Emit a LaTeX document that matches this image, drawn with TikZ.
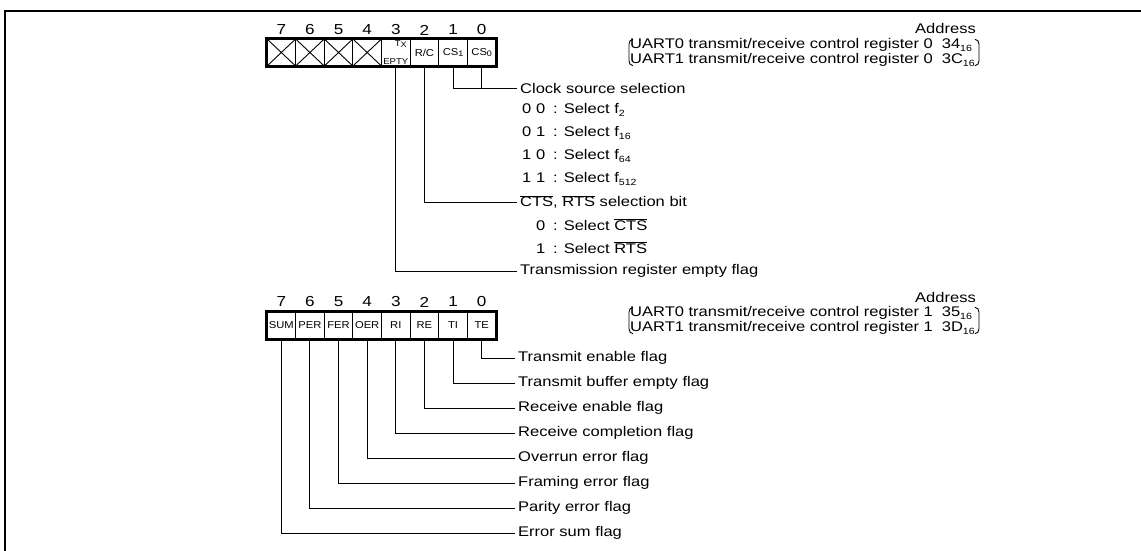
\documentclass[tikz,border=0pt]{standalone}
\usepackage{fontspec}
\setmainfont{Liberation Sans}[FakeStretch=1.18]
\newfontfamily\cellfont{Liberation Sans}[FakeStretch=1.12]
\usetikzlibrary{calc}
\newcommand{\sbs}[1]{\raisebox{-0.35ex}{\fontsize{9}{9}\selectfont #1}}
\newcommand{\csbs}[1]{\raisebox{-0.3ex}{\fontsize{8}{8}\selectfont #1}}
\newcommand{\ovl}[1]{$\overline{\mbox{#1}}$}
\newcommand{\sel}[1]{\makebox[25pt][r]{#1}\hspace{8pt}:\hspace{6pt}}
\tikzset{
  lbl/.style={font=\fontsize{14}{15}\selectfont, inner xsep=3pt, inner ysep=0pt, anchor=west},
  cell/.style={draw, line width=0.9pt, minimum width=28.625pt, minimum height=27pt, inner sep=0pt, font=\cellfont\fontsize{10}{10}\selectfont},
  tinytxt/.style={inner sep=1pt, font=\cellfont\fontsize{8.5}{8.5}\selectfont},
  bitno/.style={font=\fontsize{14.5}{14.5}\selectfont, inner sep=0pt},
  conn/.style={line width=0.9pt},
  frameline/.style={line width=2.5pt},
  regbox/.style={line width=2.2pt},
  bracestyle/.style={line width=0.9pt}
}
\begin{document}
\begin{tikzpicture}[x=1pt,y=-1pt]
\useasboundingbox (0,0) rectangle (1141,551);
% outer frame (open to the right and bottom)
\draw[frameline] (1141,11) -- (5,11) -- (5,551);

% ---------- upper register ----------
\foreach \b in {0,...,7} \node[bitno] (an\b) at ({496-28.625*(\b+0.5)},30) {\b};
\node[cell] (a7) at ({496-28.625*7.5},52.5) {};
\node[cell] (a6) at ({496-28.625*6.5},52.5) {};
\node[cell] (a5) at ({496-28.625*5.5},52.5) {};
\node[cell] (a4) at ({496-28.625*4.5},52.5) {};
\node[cell] (a3) at ({496-28.625*3.5},52.5) {};
\node[cell] (a2) at ({496-28.625*2.5},52.5) {R/C};
\node[cell] (a1) at ({496-28.625*1.5},52.5) {CS\csbs{1}};
\node[cell] (a0) at ({496-28.625*0.5},52.5) {CS\csbs{0}};
\foreach \c in {a7,a6,a5,a4} {
  \draw[line width=0.9pt] (\c.north west) -- (\c.south east) (\c.north east) -- (\c.south west);
}
\node[tinytxt, anchor=north] (a3t) at ([xshift=5pt,yshift=-1pt]a3.north) {T\csbs{X}};
\node[tinytxt, anchor=south] (a3b) at ([yshift=1pt]a3.south) {EPTY};
\draw[regbox] (a7.north west) rectangle (a0.south east);

\node[lbl] (clk) at (517,88) {Clock source selection};
\node[lbl] (s00) at (517,110) {\sel{0 0}Select f\sbs{2}};
\node[lbl] (s01) at (517,133) {\sel{0 1}Select f\sbs{16}};
\node[lbl] (s10) at (517,156) {\sel{1 0}Select f\sbs{64}};
\node[lbl] (s11) at (517,179) {\sel{1 1}Select f\sbs{512}};
\node[lbl] (cts) at (517,202) {\ovl{CTS}, \ovl{RTS} selection bit};
\node[lbl] (c0) at (517,225) {\sel{0}Select \ovl{CTS}};
\node[lbl] (c1) at (517,248) {\sel{1}Select \ovl{RTS}};
\node[lbl] (tre) at (517,271) {Transmission register empty flag};

\draw[conn] (a1.south) |- (clk.west);
\draw[conn] (a0.south) -- (a0.south |- clk.west);
\draw[conn] (a2.south) |- (cts.west);
\draw[conn] (a3.south) |- (tre.west);

% address block upper
\node[lbl] (u0) at (627,45) {UART0 transmit/receive control register 0\hspace{9pt}34\sbs{16}};
\node[lbl] (u1) at (627,60) {UART1 transmit/receive control register 0\hspace{9pt}3C\sbs{16}};
\coordinate (ob) at ($(u0.north west)+(2,1)$);
\coordinate (obb) at ($(u1.south west)+(2,-1)$);
\draw[bracestyle] ($(ob)+(4,0)$) to[out=180,in=90] ($(ob)+(0,5)$) -- ($(obb)+(0,-5)$) to[out=-90,in=180] ($(obb)+(4,0)$);
\coordinate (cb) at ($(u1.east)+(1,0)$);
\coordinate (cbt) at (cb |- ob);
\coordinate (cbb) at (cb |- obb);
\draw[bracestyle] ($(cbt)+(-4,0)$) to[out=0,in=90] ($(cbt)+(0,5)$) -- ($(cbb)+(0,-5)$) to[out=-90,in=0] ($(cbb)+(-4,0)$);
\coordinate (ady) at (0,28);
\node[lbl, anchor=east] (ad0) at (cb |- ady) {Address};

% ---------- lower register ----------
\foreach \b in {0,...,7} \node[bitno] (bn\b) at ({496-28.625*(\b+0.5)},302) {\b};
\node[cell] (b7) at ({496-28.625*7.5},325.5) {SUM};
\node[cell] (b6) at ({496-28.625*6.5},325.5) {PER};
\node[cell] (b5) at ({496-28.625*5.5},325.5) {FER};
\node[cell] (b4) at ({496-28.625*4.5},325.5) {OER};
\node[cell] (b3) at ({496-28.625*3.5},325.5) {RI};
\node[cell] (b2) at ({496-28.625*2.5},325.5) {RE};
\node[cell] (b1) at ({496-28.625*1.5},325.5) {TI};
\node[cell] (b0) at ({496-28.625*0.5},325.5) {TE};
\draw[regbox] (b7.north west) rectangle (b0.south east);

\node[lbl] (te) at (515,358) {Transmit enable flag};
\node[lbl] (ti) at (515,383) {Transmit buffer empty flag};
\node[lbl] (re) at (515,408) {Receive enable flag};
\node[lbl] (ri) at (515,433) {Receive completion flag};
\node[lbl] (oe) at (515,458) {Overrun error flag};
\node[lbl] (fe) at (515,483) {Framing error flag};
\node[lbl] (pe) at (515,508) {Parity error flag};
\node[lbl] (es) at (515,533) {Error sum flag};

\draw[conn] (b0.south) |- (te.west);
\draw[conn] (b1.south) |- (ti.west);
\draw[conn] (b2.south) |- (re.west);
\draw[conn] (b3.south) |- (ri.west);
\draw[conn] (b4.south) |- (oe.west);
\draw[conn] (b5.south) |- (fe.west);
\draw[conn] (b6.south) |- (pe.west);
\draw[conn] (b7.south) |- (es.west);

% address block lower
\node[lbl] (u2) at (627,313) {UART0 transmit/receive control register 1\hspace{9pt}35\sbs{16}};
\node[lbl] (u3) at (627,328) {UART1 transmit/receive control register 1\hspace{9pt}3D\sbs{16}};
\coordinate (ob2) at ($(u2.north west)+(2,1)$);
\coordinate (obb2) at ($(u3.south west)+(2,-1)$);
\draw[bracestyle] ($(ob2)+(4,0)$) to[out=180,in=90] ($(ob2)+(0,5)$) -- ($(obb2)+(0,-5)$) to[out=-90,in=180] ($(obb2)+(4,0)$);
\coordinate (cb2) at ($(u3.east)+(1,0)$);
\coordinate (cbt2) at (cb2 |- ob2);
\coordinate (cbb2) at (cb2 |- obb2);
\draw[bracestyle] ($(cbt2)+(-4,0)$) to[out=0,in=90] ($(cbt2)+(0,5)$) -- ($(cbb2)+(0,-5)$) to[out=-90,in=0] ($(cbb2)+(-4,0)$);
\coordinate (ady2) at (0,297);
\node[lbl, anchor=east] (ad1) at (cb2 |- ady2) {Address};
\end{tikzpicture}
\end{document}
